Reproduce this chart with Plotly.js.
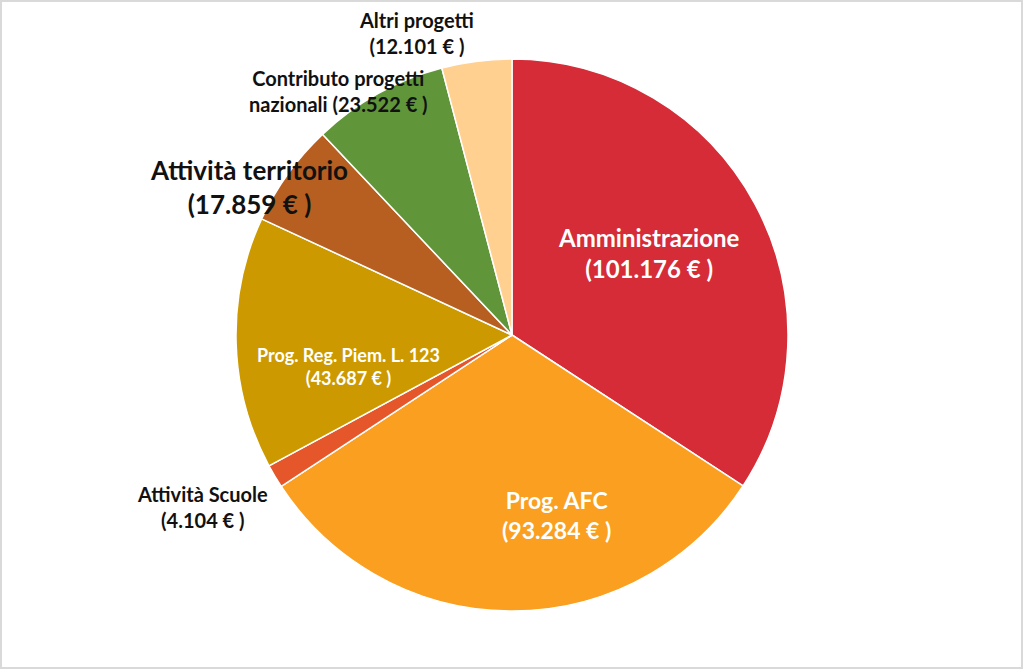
<!DOCTYPE html>
<html><head><meta charset="utf-8">
<script src="https://cdn.plot.ly/plotly-3.0.1.min.js"></script>
<style>
html,body{margin:0;padding:0;background:#fff;}
#frame{width:1023px;height:669px;box-sizing:border-box;border:2px solid #d9d9d9;position:relative;overflow:hidden;}
#chart{position:absolute;left:-2px;top:-2px;width:1023px;height:669px;}
</style></head>
<body><div id="frame"><div id="chart"></div></div>
<script>
const categories = ["Amministrazione","Prog. AFC","Attività Scuole","Prog. Reg. Piem. L. 123","Attività territorio","Contributo progetti nazionali","Altri progetti"];
const values = [101176, 93284, 4104, 43687, 17859, 23522, 12101];
const valueLabels = ["101.176","93.284","4.104","43.687","17.859","23.522","12.101"];
const colors = ["#D52C37","#FA9F20","#E5562B","#CC9A00","#B65F21","#609639","#FFD090"];

const trace = {
  type:'pie', labels:categories, values:values, sort:false, direction:'clockwise', rotation:0,
  marker:{colors:colors, line:{color:'#ffffff', width:1.5}},
  textinfo:'none', hoverinfo:'label+value', showlegend:false,
  domain:{x:[236/1023, 788/1023], y:[(669-611)/669, (669-59)/669]}
};

const F = 'Lato, "Open Sans", sans-serif';
function ann(text, x, y, size, color){
  return {text:'<b>'+text+'</b>', x:x/1023, y:1-y/669, xref:'paper', yref:'paper', showarrow:false,
    xanchor:'center', yanchor:'middle', align:'center', font:{family:F, size:size, color:color}};
}
const annotations = [
  ann(categories[0]+'<br>('+valueLabels[0]+' € )', 648, 253, 24, '#ffffff'),
  ann(categories[1]+'<br>('+valueLabels[1]+' € )', 556, 515, 23, '#ffffff'),
  ann(categories[2]+'<br>('+valueLabels[2]+' € )', 202, 507, 20, '#111111'),
  ann(categories[3]+'<br>('+valueLabels[3]+' € )', 348, 366, 18, '#ffffff'),
  ann(categories[4]+'<br>('+valueLabels[4]+' € )', 249, 187, 26, '#111111'),
  ann('Contributo progetti<br>nazionali ('+valueLabels[5]+' € )', 338, 91, 20, '#111111'),
  ann(categories[6]+'<br>('+valueLabels[6]+' € )', 416, 33, 20, '#111111')
];

Plotly.newPlot('chart',[trace],{
  width:1023, height:669, margin:{l:0,r:0,t:0,b:0},
  paper_bgcolor:'rgba(0,0,0,0)', plot_bgcolor:'rgba(0,0,0,0)',
  annotations:annotations
},{displayModeBar:false, staticPlot:true});
</script></body></html>
